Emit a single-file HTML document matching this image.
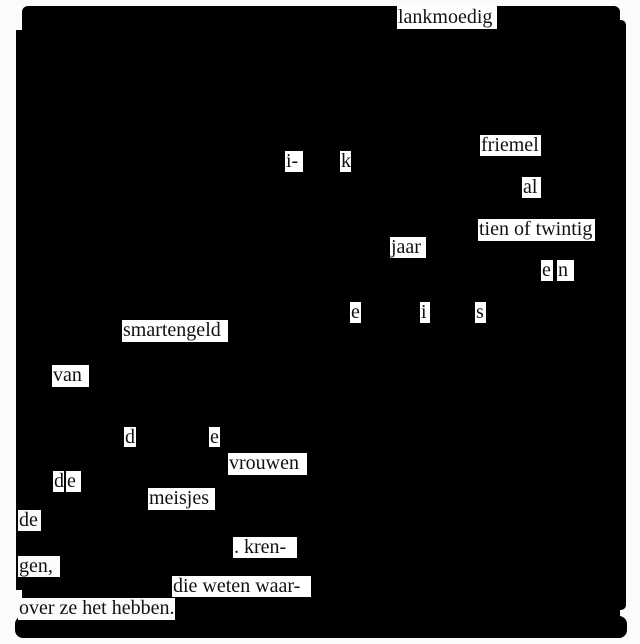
<!DOCTYPE html>
<html><head><style>
body{margin:0;width:640px;height:644px;background:#fbfbfb;position:relative;overflow:hidden;font-family:"Liberation Serif",serif;}
.b{position:absolute;background:#000;}
.w{position:absolute;background:#fff;color:#111;font-size:20px;line-height:21px;padding:0 1px;white-space:nowrap;box-sizing:border-box;overflow:hidden;}
</style></head><body>
<div class="b" style="left:22px;top:6px;width:598px;height:616px;border-radius:6px"></div>
<div class="b" style="left:16px;top:30px;width:10px;height:560px"></div>
<div class="b" style="left:612px;top:20px;width:14px;height:590px;border-radius:5px"></div>
<div class="b" style="left:15px;top:616px;width:612px;height:22px;border-radius:8px"></div>

<div class="w" style="left:397px;top:5px;width:100px;height:24px;padding-top:2px">lankmoedig</div>
<div class="w" style="left:480px;top:135px;width:61px;height:21px">friemel</div>
<div class="w" style="left:285px;top:151px;width:18px;height:21px">i-</div>
<div class="w" style="left:340px;top:151px;width:11px;height:21px">k</div>
<div class="w" style="left:522px;top:177px;width:19px;height:21px">al</div>
<div class="w" style="left:478px;top:219px;width:117px;height:22px">tien of twintig</div>
<div class="w" style="left:390px;top:237px;width:36px;height:21px">jaar</div>
<div class="w" style="left:541px;top:260px;width:12px;height:21px">e</div>
<div class="w" style="left:557px;top:260px;width:17px;height:21px">n</div>
<div class="w" style="left:350px;top:302px;width:11px;height:21px">e</div>
<div class="w" style="left:420px;top:302px;width:10px;height:21px">i</div>
<div class="w" style="left:475px;top:302px;width:11px;height:21px">s</div>
<div class="w" style="left:122px;top:320px;width:106px;height:22px">smartengeld</div>
<div class="w" style="left:52px;top:365px;width:37px;height:22px">van</div>
<div class="w" style="left:124px;top:427px;width:12px;height:20px">d</div>
<div class="w" style="left:209px;top:427px;width:11px;height:20px">e</div>
<div class="w" style="left:228px;top:453px;width:79px;height:22px">vrouwen</div>
<div class="w" style="left:53px;top:471px;width:11px;height:21px">d</div>
<div class="w" style="left:66px;top:471px;width:15px;height:21px">e</div>
<div class="w" style="left:148px;top:488px;width:67px;height:22px">meisjes</div>
<div class="w" style="left:18px;top:510px;width:23px;height:21px;background:#fbfbfb">de</div>
<div class="w" style="left:233px;top:537px;width:64px;height:21px">. kren-</div>
<div class="w" style="left:18px;top:556px;width:42px;height:21px;background:#fbfbfb">gen,</div>
<div class="w" style="left:172px;top:576px;width:139px;height:21px">die weten waar-</div>
<div class="w" style="left:18px;top:598px;width:157px;height:22px;background:#fbfbfb">over ze het hebben.</div>
</body></html>
